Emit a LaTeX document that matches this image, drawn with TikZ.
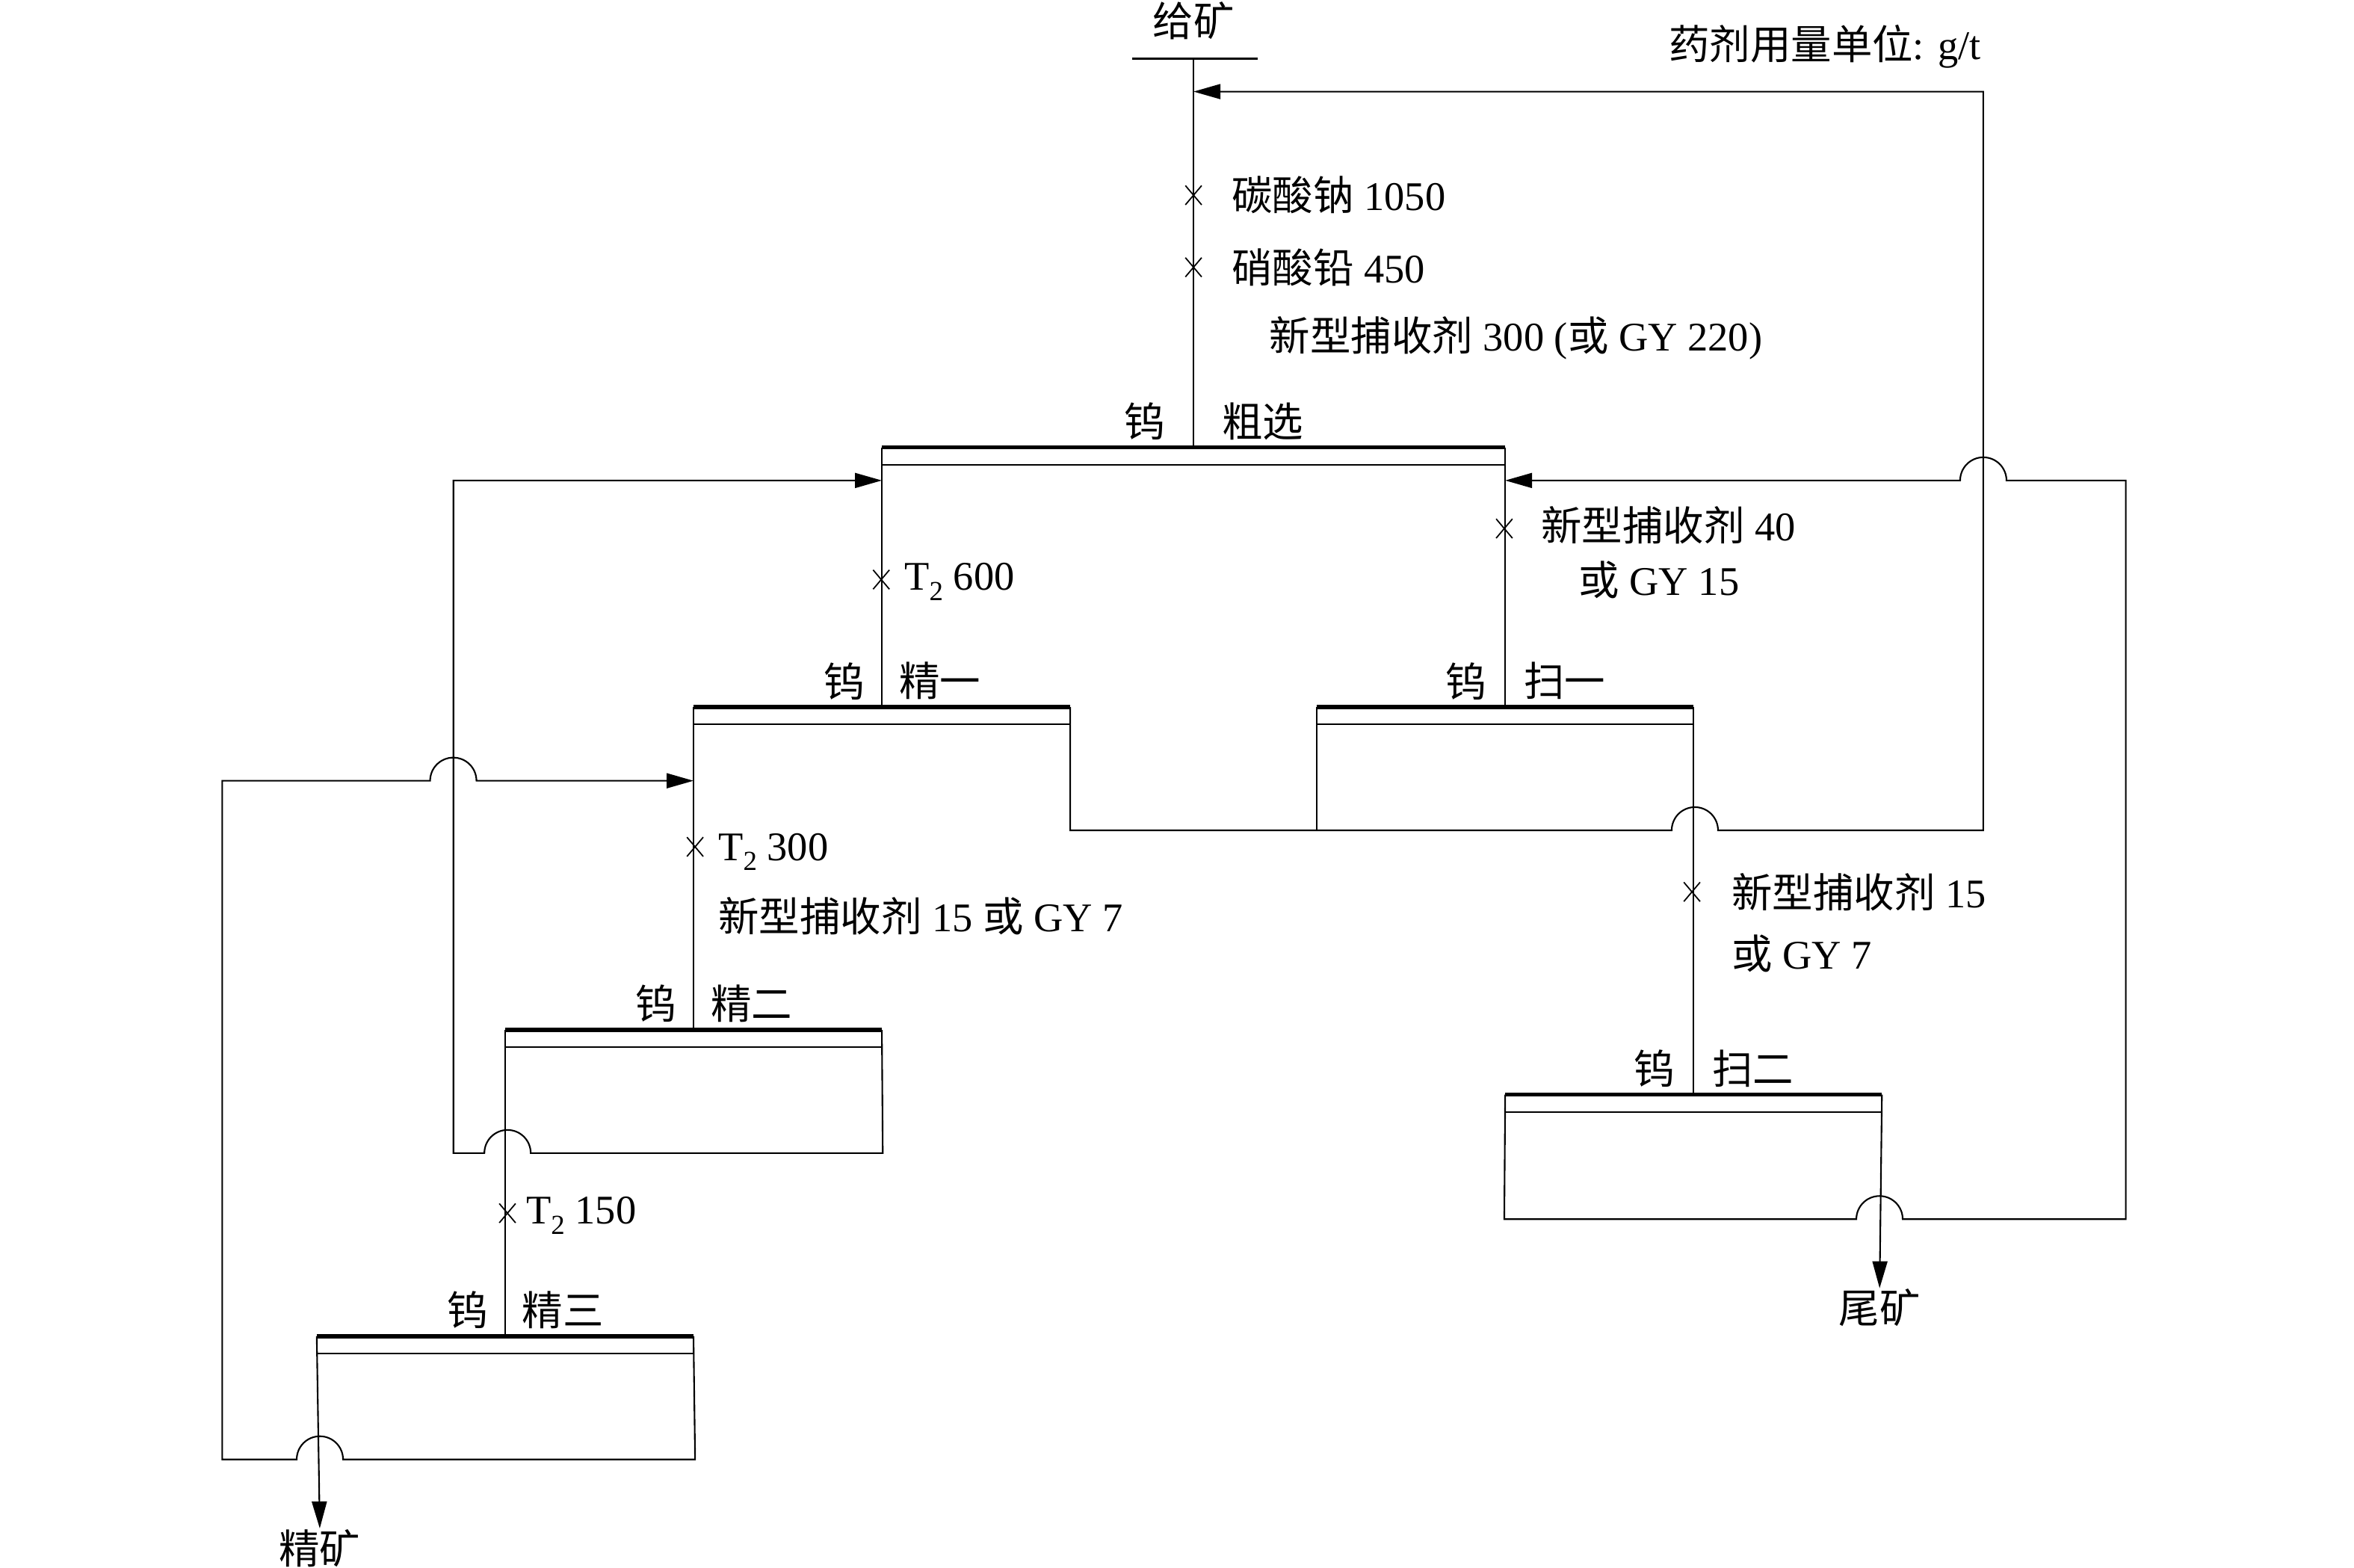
\documentclass[tikz,border=0pt]{standalone}
\usepackage{fontspec}
\setmainfont{Liberation Serif}
\newfontfamily\cjk{Noto Sans CJK SC}
\usetikzlibrary{arrows.meta, positioning, shapes.misc, calc}
\newcommand{\zh}[1]{{\cjk #1}}
\newcommand{\subtwo}{\raisebox{-0.55ex}{\fontsize{10.5}{10.5}\selectfont 2}}

\begin{document}
\begin{tikzpicture}[x=0.2009mm, y=-0.2009mm, line width=0.6pt,
    txt/.style={font=\fontsize{15.5}{18}\selectfont, inner sep=0pt},
    cell/.style={inner sep=0pt, anchor=north, minimum height=2.1mm, minimum width=50.2mm},
    froth/.style={line width=1.6pt},
    flow/.style={-{Triangle[length=3.6mm, width=2mm]}},
    dose/.style={cross out, draw, line width=0.5pt, inner sep=0pt, minimum width=2mm, minimum height=2.4mm}]
    \useasboundingbox (0,0) rectangle (1568,1044.3);
    % flotation cells: rougher, cleaners 1-3, scavengers 1-2
    \node[cell, minimum width=83.2mm] (rough) at (795,298) {};
    \node[cell] (cl1) at (rough.north west |- 0,471) {};
    \node[cell] (sc1) at (rough.north east |- 0,471) {};
    \node[cell] (cl2) at (cl1.north west |- 0,686) {};
    \node[cell] (cl3) at (cl2.north west |- 0,890) {};
    \node[cell] (sc2) at (sc1.north east |- 0,729) {};
    \foreach \c in {rough, cl1, sc1, cl2, cl3, sc2} {
        \draw[froth] (\c.north west) -- (\c.north east);
        \draw (\c.south west) -- (\c.south east);
    }
    \foreach \c/\n/\g in {rough/粗选/3.7mm, cl1/精一/2.2mm, sc1/扫一/2.4mm, cl2/精二/2.2mm, cl3/精三/2.2mm, sc2/扫二/2.4mm} {
        \node[txt, anchor=east] (\c-w) at ([xshift=-\g, yshift=3.5mm]\c.north) {\zh{钨}};
        \node[txt, anchor=west] (\c-n) at ([xshift=\g, yshift=3.5mm]\c.north) {\zh{\n}};
    }
    % feed
    \node[txt] (feed) at (795,14) {\zh{给矿}};
    \coordinate (fbar) at (796,39);
    \draw[line width=0.8pt] ([xshift=-8.4mm]fbar) -- ([xshift=8.4mm]fbar);
    \draw (rough.north |- fbar) -- (rough.north);
    \node[txt, anchor=east] (unit) at (1320,31) {\zh{药剂用量单位}: g/t};
    % main streams
    \draw (rough.north west) -- (cl1.north);
    \draw (rough.north east) -- (sc1.north);
    \draw (cl1.north west) -- (cl2.north);
    \draw (cl2.north west) -- (cl3.north);
    \draw (sc1.north east) -- (sc2.north);
    \node[txt] (conc) at (213,1031) {\zh{精矿}};
    \node[txt] (tail) at (1252,871) {\zh{尾矿}};
    \draw[flow] (cl3.north west) -- (conc.north);
    \draw[flow] (sc2.north east) -- (tail.north);
    % middlings back to feed
    \coordinate (r1) at (1321,553);
    \draw[flow] (cl1.north east) |- (1113.5,553) arc[start angle=180, end angle=0, radius=3.1mm]
        -- (r1) |- (rough.north |- 0,61);
    \draw (sc1.north west) -- (sc1.north west |- r1);
    % cleaner 2 tailings back to rougher
    \draw[flow] (cl2.north east) -- (588,768) -- (353.5,768) arc[start angle=0, end angle=180, radius=3.1mm]
        -- (302,768) |- (rough.north west |- 0,320);
    % cleaner 3 tailings back to cleaner 1
    \draw[flow] (cl3.north east) -- (463,972) -- (228.5,972) arc[start angle=0, end angle=180, radius=3.1mm]
        -- (148,972) -- (148,520) -- (286.5,520) arc[start angle=180, end angle=0, radius=3.1mm]
        -- (cl1.north west |- 0,520);
    % scavenger 2 froth back to rougher
    \draw[flow] (sc2.north west) -- (1002,812) -- (1236.5,812) arc[start angle=180, end angle=0, radius=3.1mm]
        -- (1416,812) -- (1416,320) -- (1336.5,320) arc[start angle=0, end angle=180, radius=3.1mm]
        -- (rough.north east |- 0,320);
    % reagent additions
    \foreach \x/\y [count=\i] in {795/130, 795/178, 1002/352, 587/386, 463/564, 338/808, 1127/594}
        \node[dose] (d\i) at (\x,\y) {};
    \node[txt, anchor=west] (na) at (820,130) {\zh{碳酸钠} 1050};
    \node[txt, anchor=west] (pb) at (820,178) {\zh{硝酸铅} 450};
    \node[txt, anchor=west] (col0) at (845,225) {\zh{新型捕收剂} 300 (\zh{或} GY 220)};
    \node[txt, anchor=west] (col1) at (1026,350) {\zh{新型捕收剂} 40};
    \node[txt, anchor=west] (col1b) at (1051,386) {\zh{或} GY 15};
    \node[txt, anchor=base west] (t600) at (602,393) {T\subtwo{} 600};
    \node[txt, anchor=base west] (t300) at (478,573) {T\subtwo{} 300};
    \node[txt, anchor=west] (col2) at (478,610) {\zh{新型捕收剂} 15 \zh{或} GY 7};
    \node[txt, anchor=base west] (t150) at (350,815) {T\subtwo{} 150};
    \node[txt, anchor=west] (col3) at (1153,594) {\zh{新型捕收剂} 15};
    \node[txt, anchor=west] (col3b) at (1153,635) {\zh{或} GY 7};
\end{tikzpicture}
\end{document}
